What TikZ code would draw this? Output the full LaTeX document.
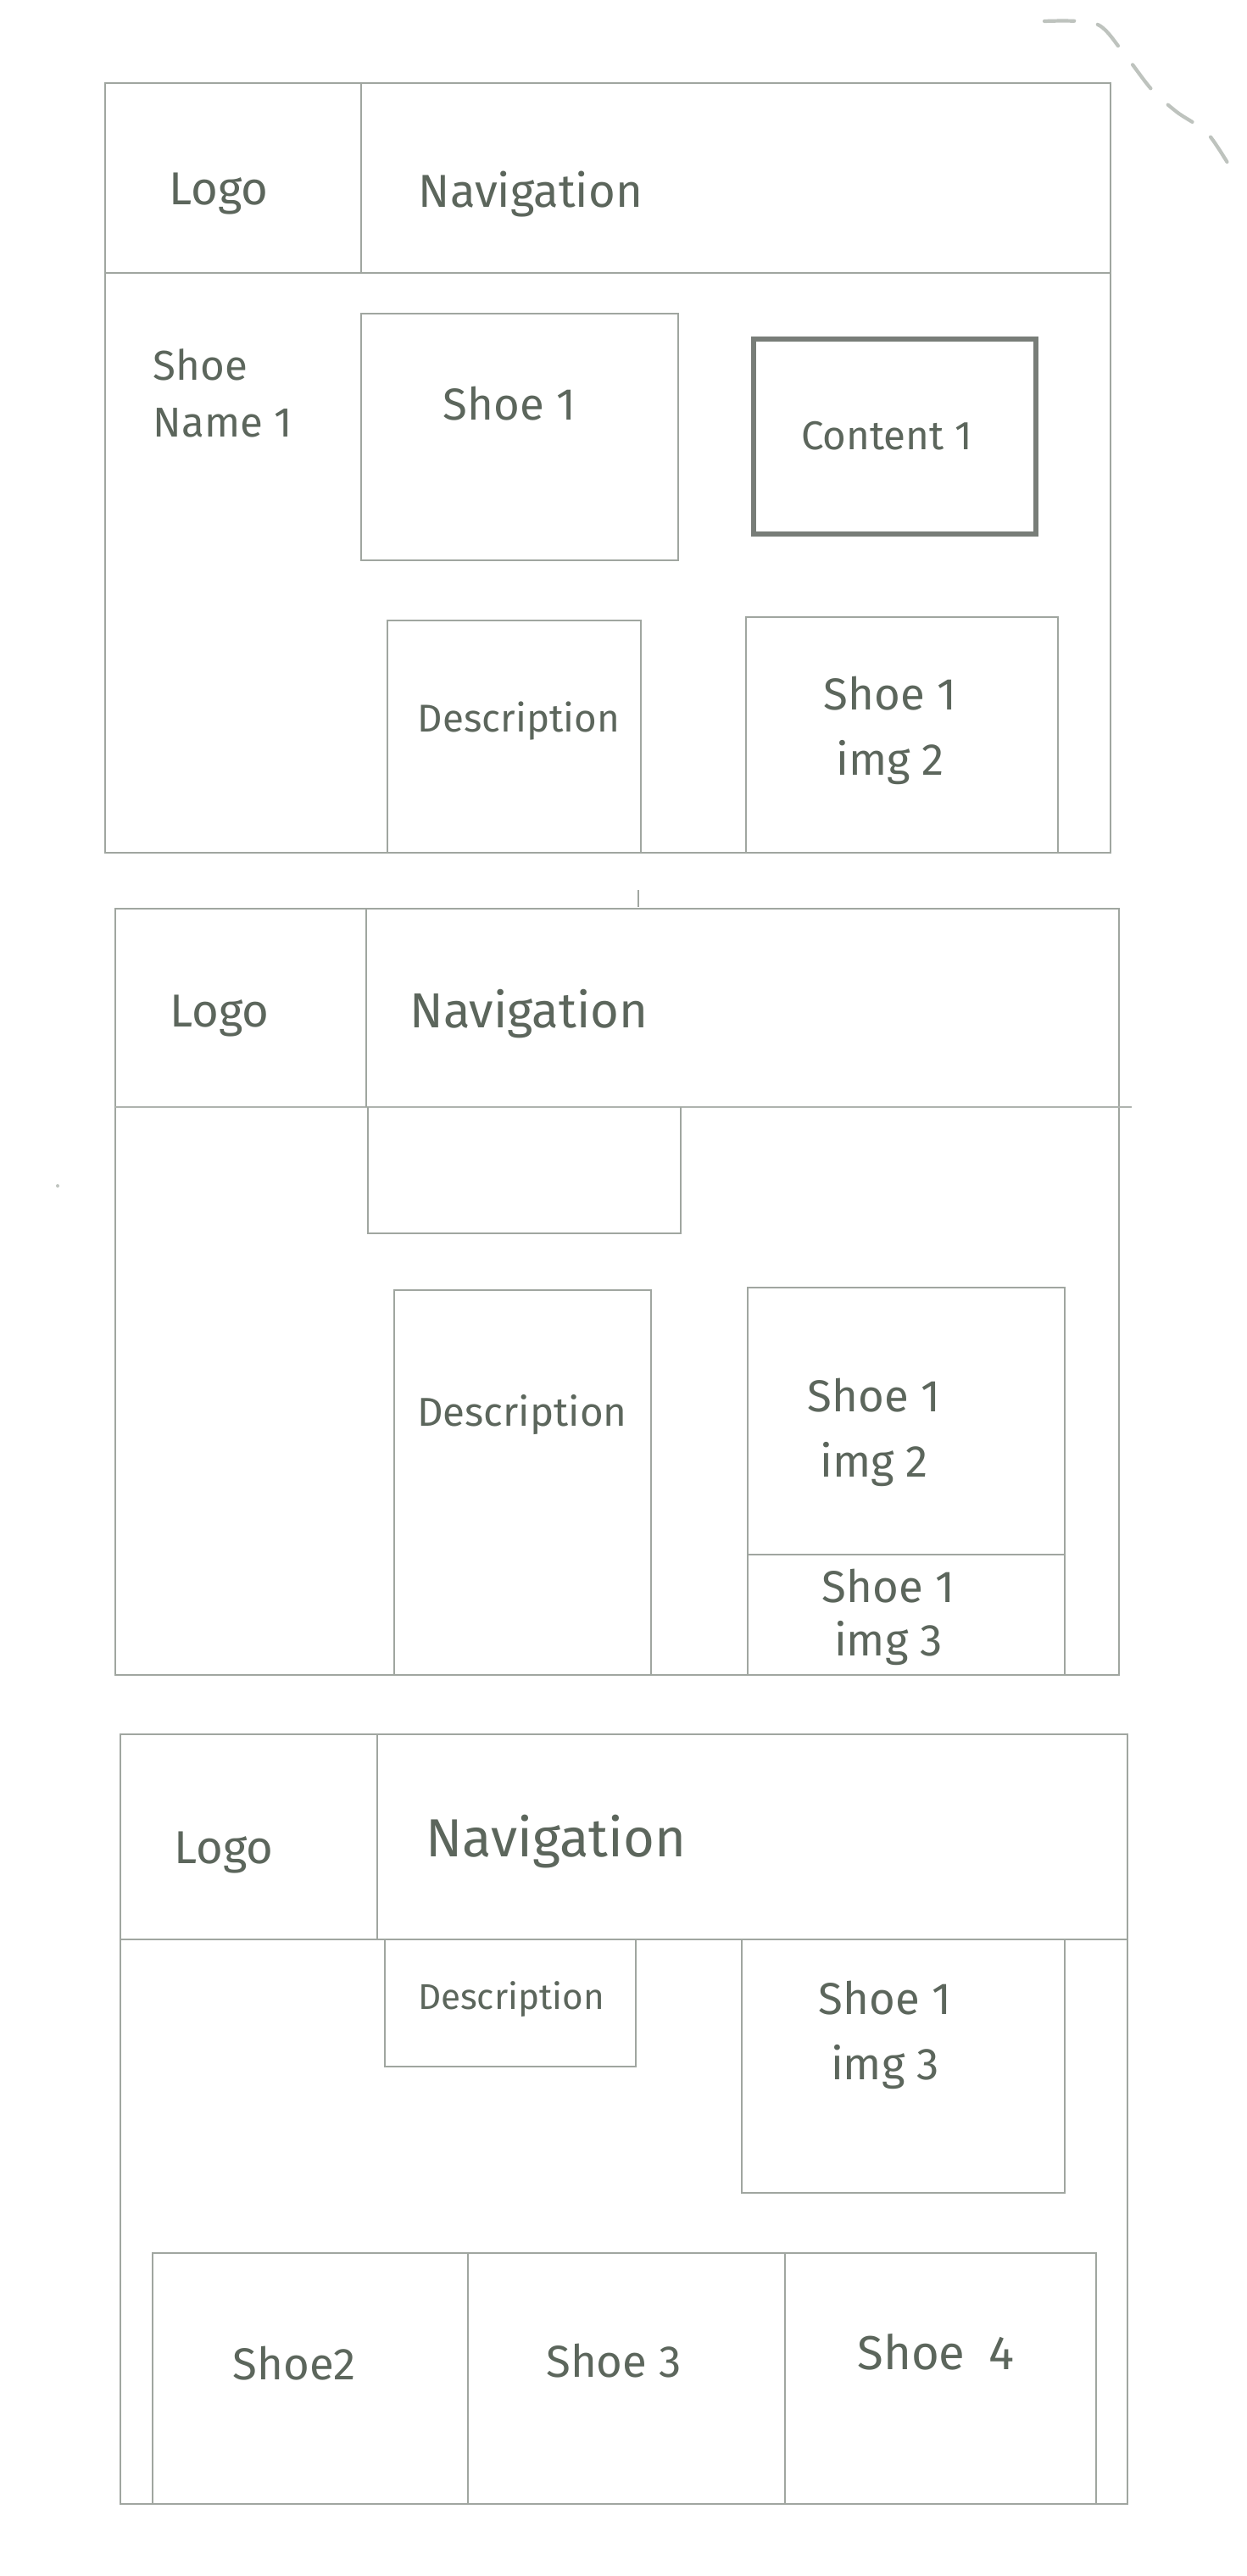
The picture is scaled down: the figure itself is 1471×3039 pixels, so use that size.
\documentclass[tikz,border=0pt]{standalone}
\usepackage{fontspec}
\setmainfont{Fira Sans}
\definecolor{pencil}{RGB}{160,166,160}
\definecolor{ink}{RGB}{92,102,92}
\definecolor{smudge}{RGB}{190,195,190}
\tikzset{
  frame/.style={draw=pencil, line width=0.8pt},
  heavy/.style={draw=pencil!75!black, line width=1.6pt},
  lbl/.style={text=ink, inner sep=0pt, align=center, font=\fontsize{15}{22}\selectfont},
  big/.style={lbl, font=\fontsize{15.5}{22}\selectfont},
  desc/.style={lbl, font=\fontsize{13}{18}\selectfont},
  small/.style={lbl, font=\fontsize{12}{16}\selectfont},
}
\begin{document}
\begin{tikzpicture}[x=0.01cm,y=-0.01cm]
\useasboundingbox[fill=white] (0,0) rectangle (1471,3039);

% ---------- Panel 1 ----------
\draw[frame] (124,98) rectangle (1310,1006);
\draw[frame] (124,322) -- (1310,322);
\draw[frame] (426,98) -- (426,322);
\draw[frame] (426,370) rectangle (800,661);
\draw[heavy] (889,400) rectangle (1222,630);
\draw[frame] (457,732) rectangle (756,1006);
\draw[frame] (880,728) rectangle (1248,1006);
\node[big] (logoA) at (258,229) {Logo};
\node[big] (navA) at (626,229) {Navigation};
\node[lbl, anchor=west, align=left, font=\fontsize{14}{19}\selectfont] (nameA) at (180,464) {Shoe\\Name 1};
\node[lbl] (shoeA) at (601,476) {Shoe 1};
\node[lbl, font=\fontsize{13.5}{20}\selectfont] (contentA) at (1046,514) {Content 1};
\node[desc] (descA) at (612,851) {Description};
\node[lbl] (imgA) at (1050,862) {Shoe 1\\img 2};

% ---------- Panel 2 ----------
\draw[frame] (136,1072) rectangle (1320,1976);
\draw[frame, draw=pencil!85] (136,1306) -- (1335,1306);
\draw[frame] (432,1072) -- (432,1306);
\draw[frame] (434,1306) -- (434,1455) -- (803,1455) -- (803,1306);
\draw[frame] (465,1522) rectangle (768,1976);
\draw[frame] (882,1519) rectangle (1256,1976);
\draw[frame] (882,1834) -- (1256,1834);
\node[big] (logoB) at (259,1199) {Logo};
\node[big, font=\fontsize{16.5}{22}\selectfont] (navB) at (624,1196) {Navigation};
\node[desc, font=\fontsize{13.5}{18}\selectfont] (descB) at (616,1669) {Description};
\node[lbl] (img2B) at (1031,1690) {Shoe 1\\img 2};
\node[lbl, font=\fontsize{15}{18}\selectfont] (img3B) at (1048,1908) {Shoe 1\\img 3};

% ---------- Panel 3 ----------
\draw[frame] (142,2046) rectangle (1330,2954);
\draw[frame] (142,2288) -- (1330,2288);
\draw[frame] (445,2046) -- (445,2288);
\draw[frame] (454,2288) rectangle (750,2438);
\draw[frame] (875,2288) rectangle (1256,2587);
\draw[frame] (180,2658) rectangle (1293,2954);
\draw[frame] (552,2658) -- (552,2954);
\draw[frame] (926,2658) -- (926,2954);
\node[big] (logoC) at (264,2185) {Logo};
\node[big, font=\fontsize{18}{24}\selectfont] (navC) at (656,2173) {Navigation};
\node[small] (descC) at (603,2359) {Description};
\node[lbl] (img3C) at (1044,2401) {Shoe 1\\img 3};
\node[lbl] (shoe2) at (347,2788) {Shoe2};
\node[lbl] (shoe3) at (724,2785) {Shoe 3};
\node[lbl, font=\fontsize{16}{22}\selectfont] (shoe4) at (1104,2775) {Shoe\enspace 4};

% ---------- stray pencil marks ----------
\draw[smudge, line width=1.2pt, dash pattern=on 10pt off 8pt, line cap=round]
  plot[smooth] coordinates {(1232,25) (1293,28) (1325,62) (1358,105) (1388,132) (1425,158) (1457,207)};
\draw[pencil, line width=0.6pt] (753,1050) -- (753,1070);
\fill[smudge] (68,1399) circle (2);
\end{tikzpicture}
\end{document}
